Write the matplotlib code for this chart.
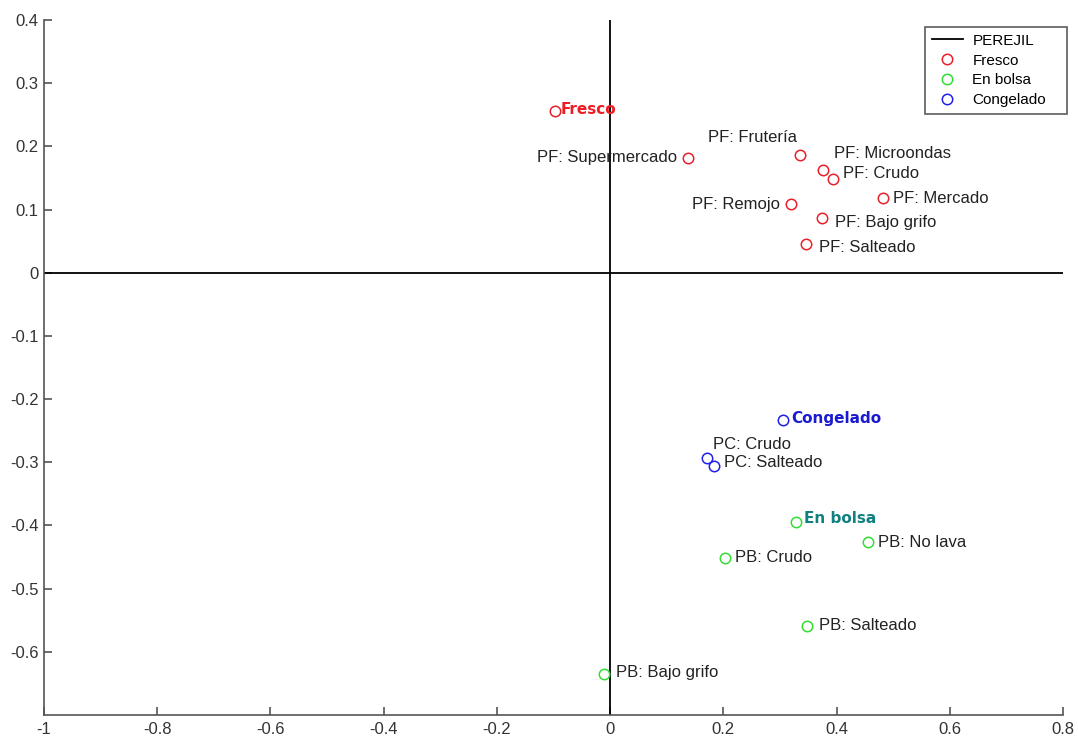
import matplotlib.pyplot as plt

# group centroids
group_names = ["Fresco", "En bolsa", "Congelado"]
group_x = [-0.097, 0.329, 0.306]
group_y = [0.256, -0.394, -0.233]

# fresco points
pf_labels = ["PF: Supermercado", "PF: Frutería", "PF: Microondas", "PF: Crudo",
             "PF: Mercado", "PF: Remojo", "PF: Bajo grifo", "PF: Salteado"]
pf_x = [0.138, 0.336, 0.376, 0.394, 0.481, 0.320, 0.375, 0.346]
pf_y = [0.181, 0.186, 0.163, 0.149, 0.119, 0.108, 0.086, 0.046]

# en bolsa points
pb_labels = ["PB: No lava", "PB: Crudo", "PB: Salteado", "PB: Bajo grifo"]
pb_x = [0.456, 0.203, 0.348, -0.011]
pb_y = [-0.427, -0.451, -0.559, -0.635]

# congelado points
pc_labels = ["PC: Crudo", "PC: Salteado"]
pc_x = [0.171, 0.184]
pc_y = [-0.294, -0.306]

# label offsets in pixels (dx, dy, ha)
pf_off = [(-11, 1, "right"), (-92, 18, "left"), (11, 16, "left"), (10, 5, "left"),
          (10, -1, "left"), (-11, 0, "right"), (13, -4, "left"), (13, -4, "left")]
pb_off = [(10, 0, "left"), (10, 0, "left"), (12, 0, "left"), (12, 1, "left")]
pc_off = [(6, 14, "left"), (10, 4, "left")]
group_off = [(5, 1), (8, 3), (8, 1)]

c_red = "#e8202a"
c_green = "#33dd33"
c_blue = "#2020e8"
group_text_colors = ["#ee1c24", "#108080", "#1a1ad0"]

plt.rcParams["font.family"] = ["Liberation Sans", "DejaVu Sans"]

fig = plt.figure(figsize=(10.78, 7.40), dpi=100)
ax = fig.add_axes([0.0408, 0.0338, 0.9454, 0.9392])

# axes cross
ax.plot([0, 0], [-0.7, 0.4], color="black", lw=1.3, label="PEREJIL")
ax.plot([-1, 0.8], [0, 0], color="black", lw=1.3)

mk = dict(marker="o", ls="none", ms=7.5, mfc="none", mew=1.1)
ax.plot(pf_x + [group_x[0]], pf_y + [group_y[0]], mec=c_red, label="Fresco", **mk)
ax.plot(pb_x + [group_x[1]], pb_y + [group_y[1]], mec=c_green, label="En bolsa", **mk)
ax.plot(pc_x + [group_x[2]], pc_y + [group_y[2]], mec=c_blue, label="Congelado", **mk)

txt = dict(textcoords="offset pixels", va="center", fontsize=12, color="#222222")
for lbls, xs, ys, offs in [(pf_labels, pf_x, pf_y, pf_off),
                           (pb_labels, pb_x, pb_y, pb_off),
                           (pc_labels, pc_x, pc_y, pc_off)]:
    for lab, x, y, (dx, dy, ha) in zip(lbls, xs, ys, offs):
        ax.annotate(lab, (x, y), xytext=(dx, dy), ha=ha, **txt)

for name, x, y, (dx, dy), col in zip(group_names, group_x, group_y, group_off, group_text_colors):
    ax.annotate(name, (x, y), xytext=(dx, dy), textcoords="offset pixels",
                va="center", ha="left", fontsize=11, fontweight="bold",
                color=col, family="DejaVu Sans")

ax.set_xlim(-1, 0.8)
ax.set_ylim(-0.7, 0.4)
ax.set_xticks([-1, -0.8, -0.6, -0.4, -0.2, 0, 0.2, 0.4, 0.6, 0.8])
ax.set_xticklabels(["-1", "-0.8", "-0.6", "-0.4", "-0.2", "0", "0.2", "0.4", "0.6", "0.8"])
ax.set_yticks([-0.6, -0.5, -0.4, -0.3, -0.2, -0.1, 0, 0.1, 0.2, 0.3, 0.4])
ax.set_yticklabels(["-0.6", "-0.5", "-0.4", "-0.3", "-0.2", "-0.1", "0",
                    "0.1", "0.2", "0.3", "0.4"])
for s in ["top", "right"]:
    ax.spines[s].set_visible(False)
for s in ["left", "bottom"]:
    ax.spines[s].set_color("#555555")
    ax.spines[s].set_linewidth(1.2)
ax.tick_params(direction="in", length=6, width=1.2, color="#555555",
               labelsize=12, labelcolor="#333333")
ax.tick_params(axis="y", pad=4)
ax.tick_params(axis="x", pad=5)

# legend box stretched to the width of the original (MATLAB-like padding)
leg = ax.legend(loc="upper left", bbox_to_anchor=(0.8646, 0.99, 0.1393, 0.0),
                mode="expand", fontsize=11,
                frameon=True, fancybox=False, handlelength=2.0,
                borderpad=0.45, labelspacing=0.38, handletextpad=0.65,
                borderaxespad=0.0)
leg.get_frame().set_edgecolor("#333333")
leg.get_frame().set_linewidth(1.2)

fig.savefig("out.png", dpi=100)
